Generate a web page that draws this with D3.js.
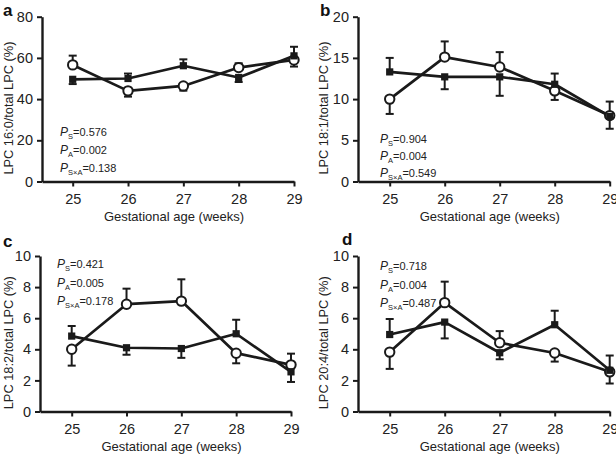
<!DOCTYPE html>
<html>
<head>
<meta charset="utf-8">
<script src="https://cdn.jsdelivr.net/npm/d3@7"></script>
<style>
  html, body { margin: 0; padding: 0; background: #fff; }
  svg { display: block; font-family: "Liberation Sans", Arial, sans-serif; }
</style>
</head>
<body>
<svg id="chart" width="616" height="463"></svg>
<script>
// ---- data ----
const weeks = [25, 26, 27, 28, 29];

const panelLetters = ["a", "b", "c", "d"];
const yTitles = ["LPC 16:0/total LPC (%)", "LPC 18:1/total LPC (%)", "LPC 18:2/total LPC (%)", "LPC 20:4/total LPC (%)"];
const yTicksA = [0, 20, 40, 60, 80];
const yTicksB = [0, 5, 10, 15, 20];
const yTicksC = [0, 2, 4, 6, 8, 10];
const yTicksD = [0, 2, 4, 6, 8, 10];

// filled squares
const filledA = [49.6, 50.0, 56.2, 50.5, 61.0];
const filledErrA = [2.3, 2.4, 3.1, 2.2, 4.4];
const filledDirA = [-1, 1, 1, -1, 1];
// open circles
const openA = [56.6, 44.0, 46.4, 55.3, 59.0];
const openErrA = [4.5, 2.8, 2.3, 2.1, 3.2];
const openDirA = [1, -1, -1, 1, -1];

const filledB = [13.3, 12.7, 12.7, 11.8, 7.9];
const filledErrB = [1.7, 1.5, 2.3, 1.3, 1.8];
const filledDirB = [1, -1, -1, 1, 1];
const openB = [10.0, 15.1, 13.9, 11.0, 8.0];
const openErrB = [1.8, 1.9, 1.8, 1.1, 1.6];
const openDirB = [-1, 1, 1, -1, -1];

const filledC = [4.85, 4.1, 4.05, 5.0, 2.55];
const filledErrC = [0.65, 0.45, 0.6, 0.9, 0.65];
const filledDirC = [1, -1, -1, 1, -1];
const openC = [4.0, 6.9, 7.1, 3.75, 3.0];
const openErrC = [1.05, 1.0, 1.4, 0.65, 0.72];
const openDirC = [-1, 1, 1, -1, 1];

const filledD = [4.95, 5.75, 3.78, 5.58, 2.65];
const filledErrD = [1.0, 1.05, 0.42, 0.9, 0.95];
const filledDirD = [1, -1, -1, 1, 1];
const openD = [3.82, 7.0, 4.42, 3.76, 2.55];
const openErrD = [1.08, 1.35, 0.75, 0.55, 0.75];
const openDirD = [-1, 1, 1, -1, -1];

const pS = ["0.576", "0.904", "0.421", "0.718"];
const pA = ["0.002", "0.004", "0.005", "0.004"];
const pSA = ["0.138", "0.549", "0.178", "0.487"];

// ---- layout ----
const layouts = [
  { axisX: 42,  x25: 72.7,  x29: 294,   y0: 181.5, yTop: 16.7, yMax: 80, ticks: yTicksA, letterX: 3,   letterY: 16,  pX: 60,  pY: 136, pStep: 18 },
  { axisX: 358, x25: 389.7, x29: 609.7, y0: 181.5, yTop: 16.7, yMax: 20, ticks: yTicksB, letterX: 320, letterY: 16,  pX: 380, pY: 143, pStep: 17 },
  { axisX: 40,  x25: 71.7,  x29: 291,   y0: 411.5, yTop: 256,  yMax: 10, ticks: yTicksC, letterX: 3,   letterY: 247, pX: 57,  pY: 268, pStep: 18.5 },
  { axisX: 358, x25: 389.7, x29: 609.7, y0: 411.5, yTop: 256,  yMax: 10, ticks: yTicksD, letterX: 342, letterY: 245, pX: 380, pY: 270, pStep: 18.5 }
];
const filledSets = [[filledA, filledErrA, filledDirA], [filledB, filledErrB, filledDirB], [filledC, filledErrC, filledDirC], [filledD, filledErrD, filledDirD]];
const openSets = [[openA, openErrA, openDirA], [openB, openErrB, openDirB], [openC, openErrC, openDirC], [openD, openErrD, openDirD]];

const svg = d3.select("#chart");

layouts.forEach((L, i) => {
  const g = svg.append("g");
  const step = (L.x29 - L.x25) / 4;
  const x = d3.scaleLinear().domain([25 - (L.x25 - L.axisX) / step, 29]).range([L.axisX, L.x29]);
  const y = d3.scaleLinear().domain([0, L.yMax]).range([L.y0, L.yTop]);

  const xAxis = g.append("g").attr("transform", `translate(0,${L.y0})`)
    .call(d3.axisBottom(x).tickValues(weeks).tickFormat(d3.format("d")).tickSize(5).tickSizeOuter(0).tickPadding(7));
  const yAxis = g.append("g").attr("transform", `translate(${L.axisX},0)`)
    .call(d3.axisLeft(y).tickValues(L.ticks).tickFormat(d3.format("d")).tickSize(5).tickSizeOuter(0).tickPadding(4));
  [xAxis, yAxis].forEach(a => {
    a.select(".domain").attr("stroke", "#1a1a1a").attr("stroke-width", 2.4);
    a.selectAll(".tick line").attr("stroke", "#1a1a1a").attr("stroke-width", 2);
    a.selectAll(".tick text").attr("fill", "#222").style("font-size", "14.5px");
  });

  // axis titles
  g.append("text").attr("x", (L.axisX + L.x29) / 2 + 6).attr("y", L.y0 + 39)
    .attr("text-anchor", "middle").style("font-size", "13px").attr("fill", "#222")
    .text("Gestational age (weeks)");
  const cy = (L.y0 + L.yTop) / 2 + 9;
  const tx = Math.max(L.axisX - 30, 13);
  g.append("text").attr("transform", `translate(${tx},${cy}) rotate(-90)`)
    .attr("text-anchor", "middle").style("font-size", "12.8px").attr("fill", "#222")
    .text(yTitles[i]);

  // panel letter
  g.append("text").attr("x", L.letterX).attr("y", L.letterY)
    .style("font-size", "17px").style("font-weight", "bold").attr("fill", "#111")
    .text(panelLetters[i]);

  // p values
  const pRows = [["S", pS[i]], ["A", pA[i]], ["S×A", pSA[i]]];
  pRows.forEach((r, k) => {
    const t = g.append("text").attr("x", L.pX).attr("y", L.pY + k * L.pStep)
      .style("font-size", "11px").attr("fill", "#222");
    t.append("tspan").style("font-style", "italic").style("font-size", "12px").text("P");
    t.append("tspan").attr("dy", 3).style("font-size", "7.5px").text(r[0]);
    t.append("tspan").attr("dy", -3).text("=" + r[1]);
  });

  const drawSeries = (vals, errs, dirs) => {
    const pts = weeks.map((w, j) => ({ w, v: vals[j], e: errs[j], d: dirs[j] }));
    const eb = g.append("g").attr("stroke", "#1a1a1a").attr("stroke-width", 2);
    pts.forEach(p => {
      const yEnd = y(p.v + p.d * p.e);
      eb.append("line").attr("x1", x(p.w)).attr("x2", x(p.w)).attr("y1", y(p.v)).attr("y2", yEnd);
      eb.append("line").attr("x1", x(p.w) - 4).attr("x2", x(p.w) + 4).attr("y1", yEnd).attr("y2", yEnd);
    });
    return pts;
  };
  const fPts = drawSeries(...filledSets[i]);
  const oPts = drawSeries(...openSets[i]);

  const line = d3.line().x(p => x(p.w)).y(p => y(p.v));
  [fPts, oPts].forEach(pts => {
    g.append("path").datum(pts).attr("d", line).attr("fill", "none")
      .attr("stroke", "#1a1a1a").attr("stroke-width", 2.7).attr("stroke-linejoin", "round");
  });

  g.selectAll(null).data(oPts).enter().append("circle")
    .attr("cx", p => x(p.w)).attr("cy", p => y(p.v)).attr("r", 4.7)
    .attr("fill", "#fff").attr("stroke", "#1a1a1a").attr("stroke-width", 2);
  g.selectAll(null).data(fPts).enter().append("rect")
    .attr("x", p => x(p.w) - 3.6).attr("y", p => y(p.v) - 3.6)
    .attr("width", 7.2).attr("height", 7.2).attr("fill", "#1a1a1a");
});
</script>
</body>
</html>
